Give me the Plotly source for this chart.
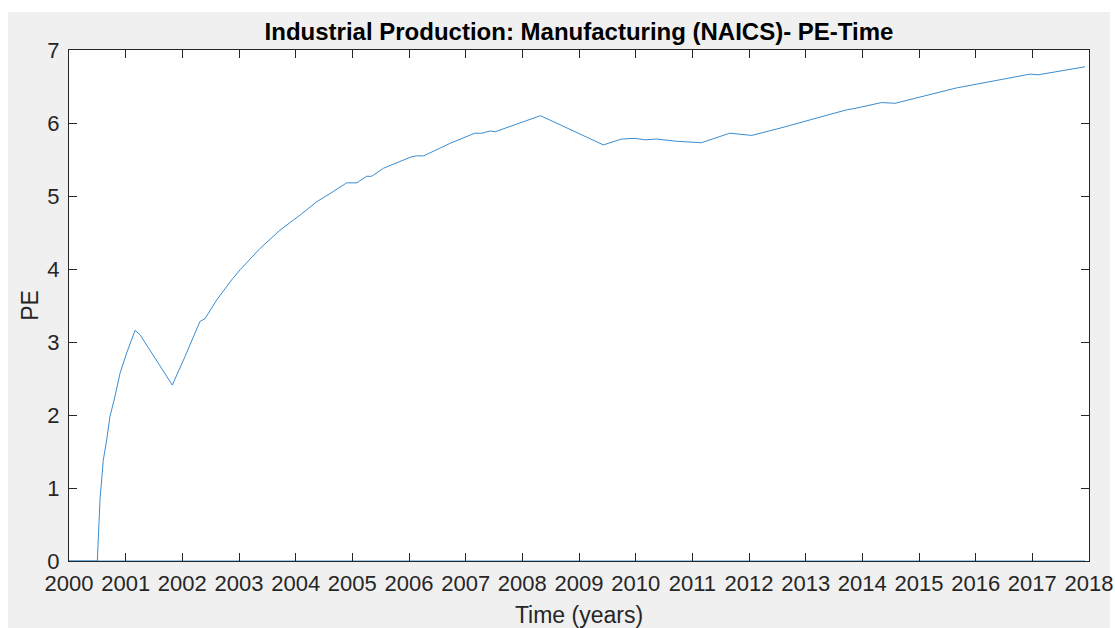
import plotly.graph_objects as go

# PE series over time (fractional years)
years = [2000.00, 2000.50, 2000.547, 2000.605, 2000.665, 2000.723, 2000.81, 2000.90,
         2001.018, 2001.165, 2001.253, 2001.823, 2002.047, 2002.31, 2002.40, 2002.61,
         2002.87, 2003.02, 2003.37, 2003.72, 2004.08, 2004.37, 2004.66, 2004.90,
         2005.08, 2005.25, 2005.34, 2005.55, 2006.02, 2006.13, 2006.26, 2006.72,
         2007.16, 2007.28, 2007.43, 2007.52, 2008.32, 2009.43, 2009.75, 2009.99,
         2010.16, 2010.37, 2010.72, 2011.16, 2011.66, 2012.05, 2012.55, 2013.72,
         2013.87, 2014.34, 2014.58, 2015.66, 2016.96, 2017.10, 2017.93]
pe = [0.00, 0.00, 0.84, 1.38, 1.66, 1.98, 2.25, 2.57,
      2.85, 3.16, 3.10, 2.41, 2.80, 3.28, 3.32, 3.58,
      3.85, 3.99, 4.28, 4.53, 4.74, 4.92, 5.06, 5.18,
      5.18, 5.27, 5.27, 5.38, 5.53, 5.55, 5.55, 5.72,
      5.86, 5.86, 5.89, 5.88, 6.10, 5.70, 5.78, 5.79,
      5.77, 5.78, 5.75, 5.73, 5.86, 5.83, 5.93, 6.18,
      6.20, 6.28, 6.27, 6.48, 6.67, 6.66, 6.77]

# zero baseline series
base_years = [2000.0, 2017.93]
base_pe = [0.0, 0.0]

x_ticks = list(range(2000, 2019))
y_ticks = list(range(0, 8))

line_color = "#3b8dd0"
axis_color = "#262626"
font_family = "Liberation Sans, Arial, Helvetica, sans-serif"

fig = go.Figure()
fig.add_trace(go.Scatter(x=base_years, y=base_pe, mode="lines",
                         line=dict(color=line_color, width=1), showlegend=False))
fig.add_trace(go.Scatter(x=years, y=pe, mode="lines",
                         line=dict(color=line_color, width=1), showlegend=False))

L, R, T, B = 69, 26, 50, 67
W, H = 1115, 628
pw, ph = W - L - R, H - T - B

def px_x(p):
    return (p - L) / pw

def px_y(p):
    return (H - B - p) / ph

# white surround outside the gray figure panel
white = dict(type="rect", xref="paper", yref="paper", fillcolor="white",
             line=dict(width=0), layer="below")
fig.update_layout(shapes=[
    dict(white, x0=px_x(-10), x1=px_x(8), y0=px_y(700), y1=px_y(-10)),
    dict(white, x0=px_x(-10), x1=px_x(1125), y0=px_y(12), y1=px_y(-10)),
    dict(white, x0=px_x(1110), x1=px_x(1125), y0=px_y(700), y1=px_y(-10)),
])

axis_common = dict(
    showline=True, linecolor=axis_color, linewidth=1, mirror="ticks",
    ticks="inside", ticklen=8, tickwidth=1, tickcolor=axis_color,
    showgrid=False, zeroline=False, automargin=False,
    tickfont=dict(family=font_family, size=22, color=axis_color),
)

fig.update_layout(
    width=W, height=H,
    margin=dict(l=L, r=R, t=T, b=B),
    paper_bgcolor="#f0f0f0",
    plot_bgcolor="white",
    title=dict(text="<b>Industrial Production: Manufacturing (NAICS)- PE-Time</b>",
               x=px_x((L + W - R) / 2), xref="paper", xanchor="center",
               y=1 - 32 / H, yref="container", yanchor="middle",
               font=dict(family=font_family, size=24, color="black")),
    xaxis=dict(axis_common, range=[2000, 2018], tickvals=x_ticks,
               ticklabelstandoff=3,
               title=dict(text="Time (years)", standoff=11,
                          font=dict(family=font_family, size=23, color=axis_color))),
    yaxis=dict(axis_common, range=[0, 7], tickvals=y_ticks,
               ticklabelstandoff=4,
               title=dict(text="PE", standoff=2,
                          font=dict(family=font_family, size=23, color=axis_color))),
)

fig.write_html("out.html")
